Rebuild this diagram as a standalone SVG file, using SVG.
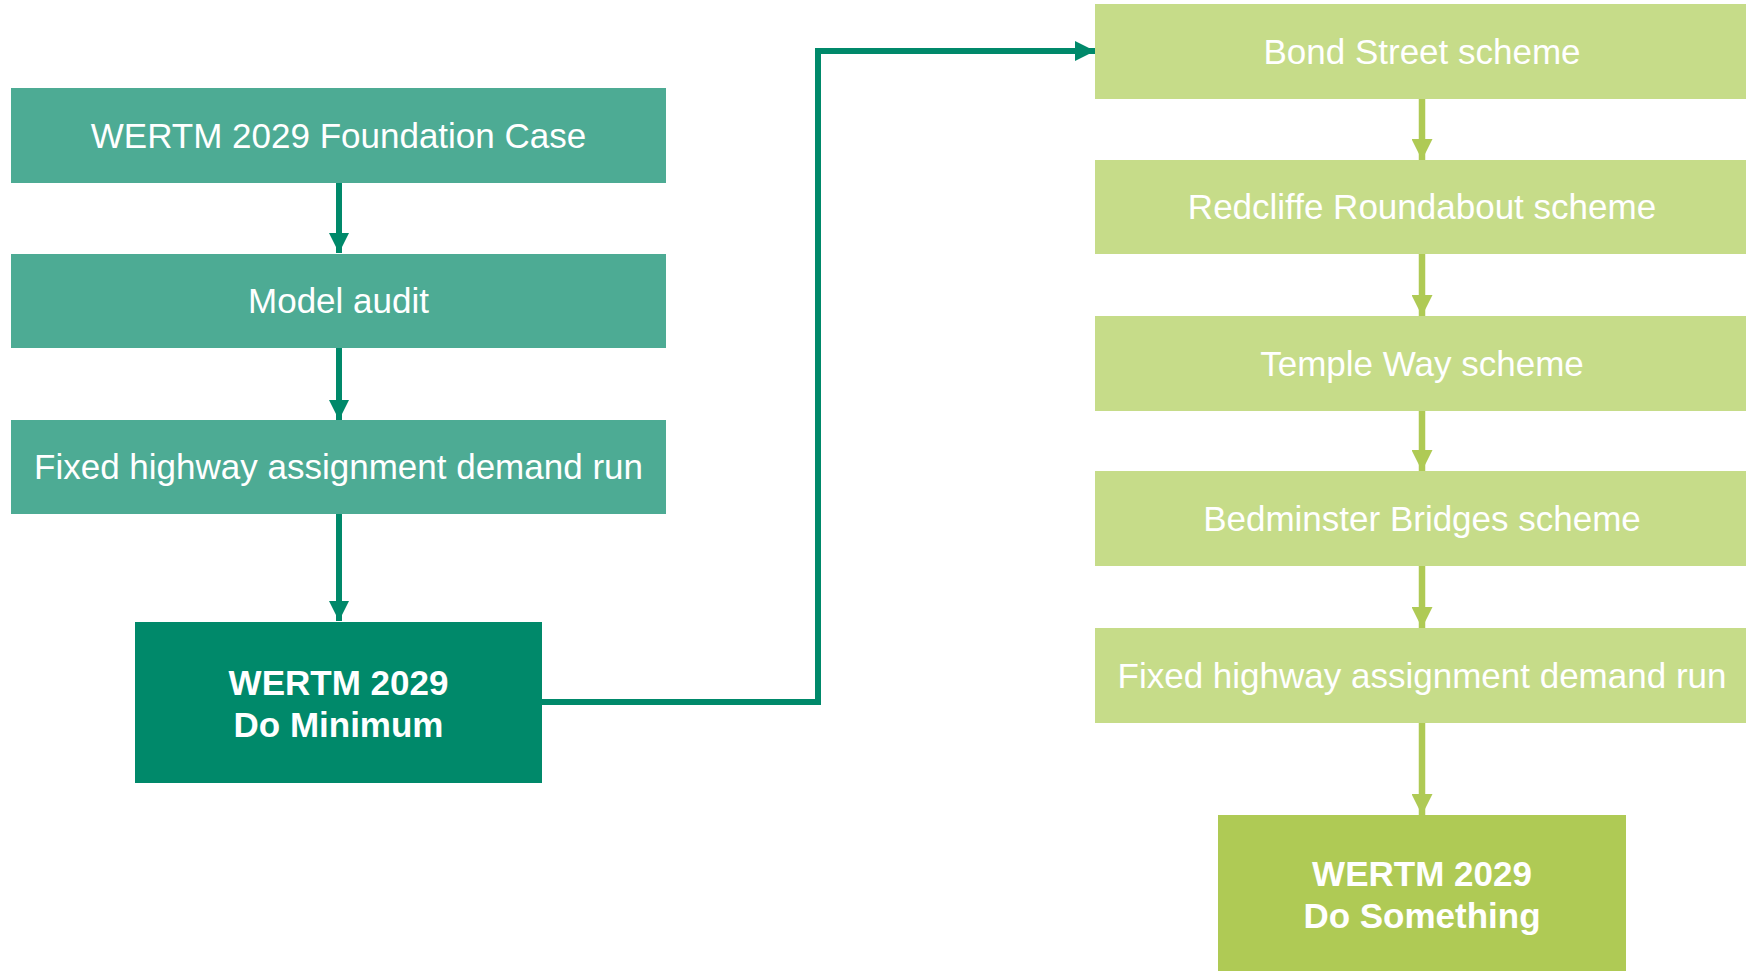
<svg xmlns="http://www.w3.org/2000/svg" width="1746" height="971" viewBox="0 0 1746 971">
<style>
.t{font-family:"Liberation Sans",Arial,sans-serif;font-size:35px;fill:#ffffff;text-anchor:middle}
.b{font-weight:bold}
.teal{fill:#4DAB94}
.dark{fill:#00896A}
.light{fill:#C6DC89}
.lime{fill:#AFCA55}
.cd{fill:none;stroke:#00896A;stroke-width:6}
.cl{fill:none;stroke:#AFCA55;stroke-width:6.5}
</style>
<defs>
<marker id="ad" markerUnits="userSpaceOnUse" markerWidth="20" markerHeight="20" refX="20" refY="10" orient="auto" viewBox="0 0 20 20"><path d="M0,0 L20,10 L0,20 Z" fill="#00896A"/></marker>
<marker id="al" markerUnits="userSpaceOnUse" markerWidth="21" markerHeight="21" refX="21" refY="10.5" orient="auto" viewBox="0 0 21 21"><path d="M0,0 L21,10.5 L0,21 Z" fill="#AFCA55"/></marker>
</defs>
<rect width="1746" height="971" fill="#ffffff"/>
<g id="connectors">
<path class="cd" d="M339,183 V253" marker-end="url(#ad)"/>
<path class="cd" d="M339,348 V420" marker-end="url(#ad)"/>
<path class="cd" d="M339,514 V621" marker-end="url(#ad)"/>
<path class="cd" d="M542,702 H818 V51 H1095" marker-end="url(#ad)"/>
<path class="cl" d="M1422,99 V160" marker-end="url(#al)"/>
<path class="cl" d="M1422,254 V316" marker-end="url(#al)"/>
<path class="cl" d="M1422,411 V471" marker-end="url(#al)"/>
<path class="cl" d="M1422,566 V628" marker-end="url(#al)"/>
<path class="cl" d="M1422,723 V815" marker-end="url(#al)"/>
</g>
<g id="foundation"><rect class="teal" x="11" y="88" width="655" height="95"/><text class="t" x="338.5" y="148">WERTM 2029 Foundation Case</text></g>
<g id="audit"><rect class="teal" x="11" y="254" width="655" height="94"/><text class="t" x="338.5" y="313">Model audit</text></g>
<g id="fixed-left"><rect class="teal" x="11" y="420" width="655" height="94"/><text class="t" x="338.5" y="479">Fixed highway assignment demand run</text></g>
<g id="do-minimum"><rect class="dark" x="135" y="622" width="407" height="161"/><text class="t b" x="338.5" y="695">WERTM 2029</text><text class="t b" x="338.5" y="737">Do Minimum</text></g>
<g id="bond"><rect class="light" x="1095" y="4" width="654" height="95"/><text class="t" x="1422" y="64">Bond Street scheme</text></g>
<g id="redcliffe"><rect class="light" x="1095" y="160" width="654" height="94"/><text class="t" x="1422" y="219">Redcliffe Roundabout scheme</text></g>
<g id="temple"><rect class="light" x="1095" y="316" width="654" height="95"/><text class="t" x="1422" y="376">Temple Way scheme</text></g>
<g id="bedminster"><rect class="light" x="1095" y="471" width="654" height="95"/><text class="t" x="1422" y="531">Bedminster Bridges scheme</text></g>
<g id="fixed-right"><rect class="light" x="1095" y="628" width="654" height="95"/><text class="t" x="1422" y="688">Fixed highway assignment demand run</text></g>
<g id="do-something"><rect class="lime" x="1218" y="815" width="408" height="162"/><text class="t b" x="1422" y="886">WERTM 2029</text><text class="t b" x="1422" y="928">Do Something</text></g>
</svg>
